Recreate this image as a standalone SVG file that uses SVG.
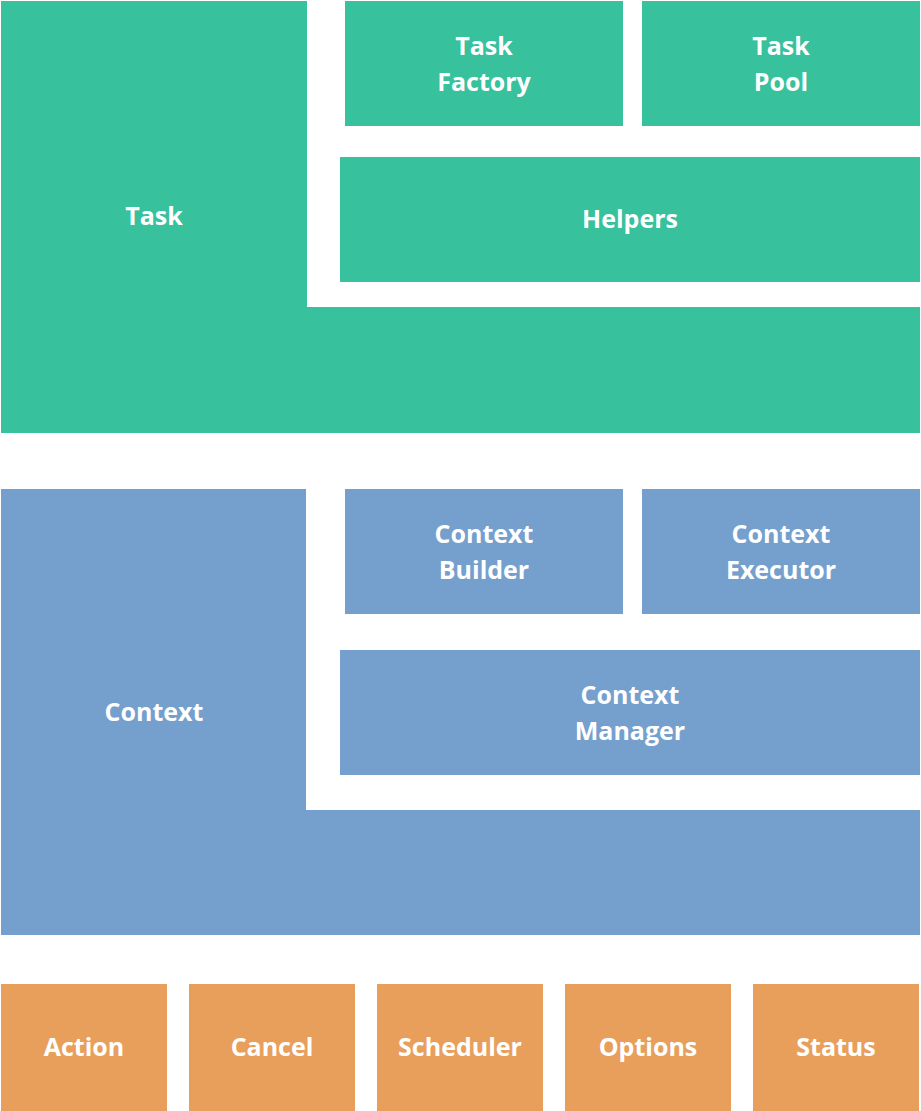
<svg xmlns="http://www.w3.org/2000/svg" width="921" height="1111" viewBox="0 0 921 1111">
  <style>
    .green { fill: #37C19D; }
    .blue { fill: #75A0CD; }
    .orange { fill: #E89F5C; }
    text { fill: #FFFFFF; font-family: "Open Sans", Lato, "Liberation Sans", sans-serif; font-weight: bold; font-size: 25px; text-anchor: middle; }
  </style>

  <!-- Task layer -->
  <g id="task">
    <path class="green" d="M1 1 H307 V307 H920 V433 H1 Z"/>
    <text x="154" y="225">Task</text>
  </g>
  <g id="task-factory">
    <rect class="green" x="345" y="1" width="278" height="125"/>
    <text x="484" y="55">Task</text>
    <text x="484" y="91">Factory</text>
  </g>
  <g id="task-pool">
    <rect class="green" x="642" y="1" width="278" height="125"/>
    <text x="781" y="55">Task</text>
    <text x="781" y="91">Pool</text>
  </g>
  <g id="helpers">
    <rect class="green" x="340" y="157" width="580" height="125"/>
    <text x="630" y="228">Helpers</text>
  </g>

  <!-- Context layer -->
  <g id="context">
    <path class="blue" d="M1 489 H306 V810 H920 V935 H1 Z"/>
    <text x="154" y="721">Context</text>
  </g>
  <g id="context-builder">
    <rect class="blue" x="345" y="489" width="278" height="125"/>
    <text x="484" y="543">Context</text>
    <text x="484" y="579">Builder</text>
  </g>
  <g id="context-executor">
    <rect class="blue" x="642" y="489" width="278" height="125"/>
    <text x="781" y="543">Context</text>
    <text x="781" y="579">Executor</text>
  </g>
  <g id="context-manager">
    <rect class="blue" x="340" y="650" width="580" height="125"/>
    <text x="630" y="704">Context</text>
    <text x="630" y="740">Manager</text>
  </g>

  <!-- Base primitives -->
  <g id="action">
    <rect class="orange" x="1" y="984" width="166" height="127"/>
    <text x="84" y="1056">Action</text>
  </g>
  <g id="cancel">
    <rect class="orange" x="189" y="984" width="166" height="127"/>
    <text x="272" y="1056">Cancel</text>
  </g>
  <g id="scheduler">
    <rect class="orange" x="377" y="984" width="166" height="127"/>
    <text x="460" y="1056">Scheduler</text>
  </g>
  <g id="options">
    <rect class="orange" x="565" y="984" width="166" height="127"/>
    <text x="648" y="1056">Options</text>
  </g>
  <g id="status">
    <rect class="orange" x="753" y="984" width="166" height="127"/>
    <text x="836" y="1056">Status</text>
  </g>

  <g id="connectors"/>
</svg>
